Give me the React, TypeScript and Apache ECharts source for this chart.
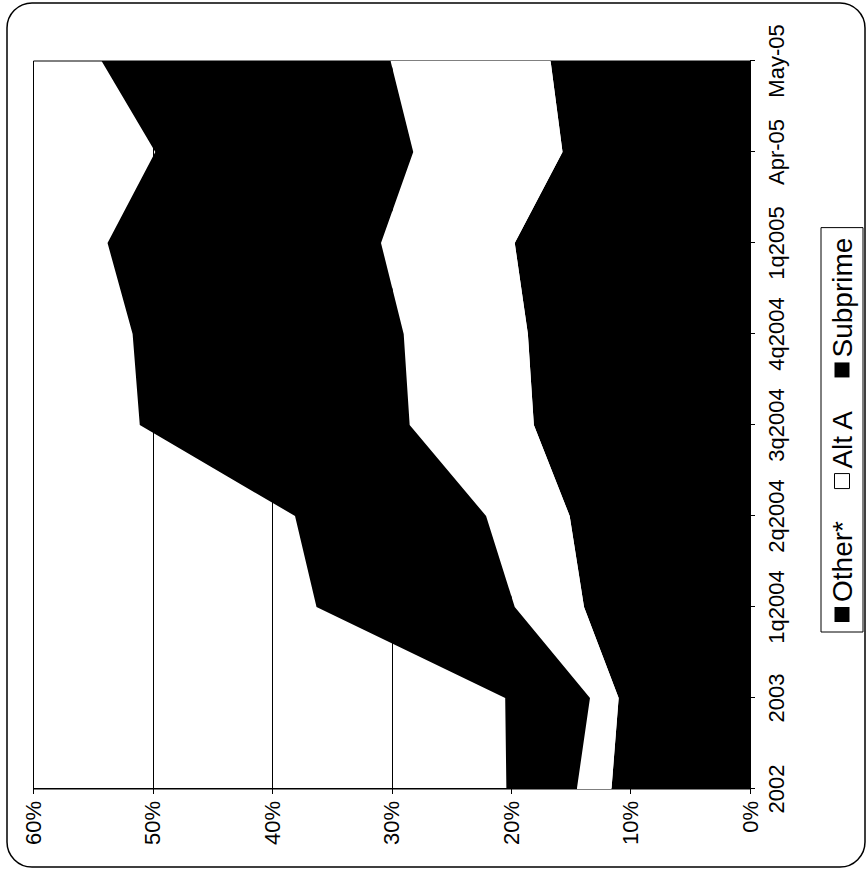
import React, { useEffect, useRef } from "react";
import * as echarts from "echarts";

const categories = ["2002", "2003", "1q2004", "2q2004", "3q2004", "4q2004", "1q2005", "Apr-05", "May-05"];
const subprime = [11.6, 11.0, 13.9, 15.1, 18.1, 18.6, 19.7, 15.7, 16.7];
const altA = [2.9, 2.4, 5.8, 7.0, 10.4, 10.4, 11.2, 12.5, 13.4];
const other = [5.9, 7.1, 16.6, 16.0, 22.6, 22.7, 22.9, 21.6, 24.2];
const seriesNames = ["Other*", "Alt A", "Subprime"];
const valueMin = 0;
const valueMax = 60;
const valueStep = 10;

const FONT = "'Liberation Sans', Arial, sans-serif";

export default function App() {
  const ref = useRef<HTMLDivElement>(null);

  useEffect(() => {
    if (!ref.current) return;
    const chart = echarts.init(ref.current, undefined, { renderer: "svg" });
    const area = (name: string, data: number[], color: string) => ({
      name,
      type: "line",
      stack: "total",
      data,
      symbol: "none",
      lineStyle: { width: 0, color },
      itemStyle: { color },
      areaStyle: { color, opacity: 1 },
      emphasis: { disabled: true },
    });
    chart.setOption({
      animation: false,
      backgroundColor: "#fff",
      grid: {
        left: 82,
        right: 61,
        top: 33.5,
        bottom: 116,
        show: true,
        borderColor: "#000",
        borderWidth: 1,
        containLabel: false,
      },
      legend: {
        left: 239,
        top: 821,
        orient: "horizontal",
        icon: "rect",
        itemWidth: 15,
        itemHeight: 15,
        itemGap: 32,
        padding: [7, 10],
        borderColor: "#000",
        borderWidth: 1,
        textStyle: { fontSize: 28, color: "#000", fontFamily: FONT },
        data: [
          { name: seriesNames[0], itemStyle: { color: "#000" } },
          { name: seriesNames[1], itemStyle: { color: "#fff", borderColor: "#000", borderWidth: 1 } },
          { name: seriesNames[2], itemStyle: { color: "#000" } },
        ],
      },
      xAxis: {
        type: "category",
        data: categories,
        boundaryGap: false,
        axisLine: { show: true, lineStyle: { color: "#000", width: 1 } },
        axisTick: { show: true, length: 5, lineStyle: { color: "#000" } },
        axisLabel: { fontSize: 22, color: "#000", fontFamily: FONT, margin: 15, interval: 0 },
        splitLine: { show: false },
      },
      yAxis: {
        type: "value",
        min: valueMin,
        max: valueMax,
        interval: valueStep,
        axisLine: { show: true, lineStyle: { color: "#000", width: 1 } },
        axisTick: { show: true, length: 5, lineStyle: { color: "#000" } },
        axisLabel: {
          fontSize: 22,
          color: "#000",
          fontFamily: FONT,
          margin: 12,
          formatter: (v: number) => `${v}%`,
        },
        splitLine: { show: true, lineStyle: { color: "#000", width: 1 } },
      },
      graphic: [
        {
          type: "rect",
          shape: { x: 4, y: 7, width: 864, height: 858, r: 25 },
          style: { fill: "none", stroke: "#000", lineWidth: 1.5 },
          silent: true,
          z: 100,
        },
      ],
      series: [
        area(seriesNames[2], subprime, "#000"),
        area(seriesNames[1], altA, "#fff"),
        area(seriesNames[0], other, "#000"),
      ],
    });
    return () => chart.dispose();
  }, []);

  return (
    <div style={{ position: "fixed", left: 0, top: 0, width: 866, height: 871, overflow: "hidden", background: "#fff" }}>
      <div
        ref={ref}
        style={{
          position: "absolute",
          left: 0,
          top: 0,
          width: 871,
          height: 866,
          transformOrigin: "0 0",
          transform: "translate(0px, 871px) rotate(-90deg)",
        }}
      />
    </div>
  );
}
